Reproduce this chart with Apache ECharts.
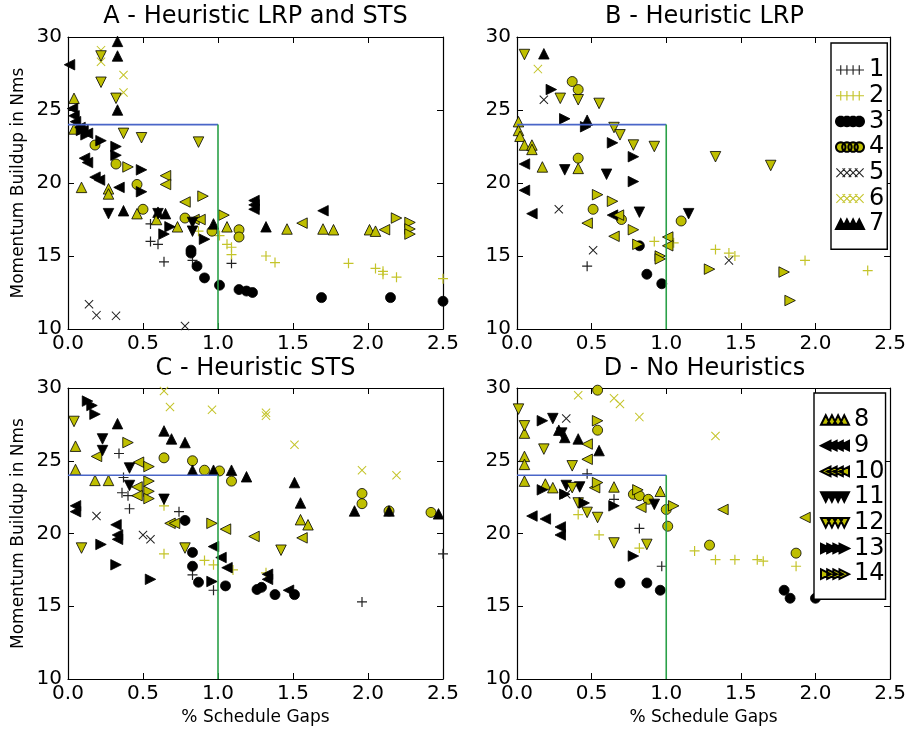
<!DOCTYPE html>
<html>
<head>
<meta charset="utf-8">
<script src="https://cdn.jsdelivr.net/npm/echarts@6.0.0/dist/echarts.min.js"></script>
<style>html,body{margin:0;padding:0;background:#fff}#chart{width:909px;height:730px}</style>
</head>
<body>
<div id="chart"></div>
<script>
// ---------- labels ----------
const panelTitles = ['A - Heuristic LRP and STS', 'B - Heuristic LRP', 'C - Heuristic STS', 'D - No Heuristics'];
const seriesNames = ['1','2','3','4','5','6','7','8','9','10','11','12','13','14'];
const yAxisTitle = 'Momentum Buildup in Nms';
const xAxisTitle = '% Schedule Gaps';
const xRange = [0, 2.5];
const xStep = 0.5;
const yRange = [10, 30];
const yStep = 5;
const limitX = 1.0;
const limitY = 24;

// ---------- panel A : Heuristic LRP and STS ----------
const A1 = [[0.55,17.2],[0.55,16.0],[0.6,15.8],[0.64,14.6],[0.83,14.7],[1.09,14.5]];
const A2 = [[0.87,16.7],[1.01,16.4],[1.06,15.8],[1.09,15.6],[1.09,15.1],[1.32,15.0],[1.38,14.55],[1.87,14.5],[2.05,14.15],[2.1,13.95],[2.1,13.75],[2.19,13.55],[2.5,13.45]];
const A3 = [[0.82,15.4],[0.82,15.2],[0.86,14.3],[0.91,13.5],[1.01,13.0],[1.14,12.7],[1.19,12.6],[1.23,12.5],[1.69,12.15],[2.15,12.15],[2.5,11.9]];
const A4 = [[0.18,22.6],[0.32,21.3],[0.46,19.9],[0.5,18.2],[0.78,17.6],[0.96,16.7],[1.14,16.8],[1.14,16.3]];
const A5 = [[0.14,11.7],[0.19,10.95],[0.32,10.9],[0.78,10.2]];
const A6 = [[0.22,29.1],[0.22,28.3],[0.37,27.4],[0.37,26.2]];
const A7 = [[0.33,29.7],[0.33,28.7],[0.33,25.0],[0.37,18.1],[0.6,18.0],[0.65,17.9],[0.97,17.2],[1.32,17.0]];
const A8 = [[0.04,25.8],[0.04,23.7],[0.09,19.7],[0.27,19.6],[0.27,19.25],[0.46,17.9],[0.59,17.5],[0.73,17.0],[1.06,17.0],[1.46,16.85],[1.7,16.85],[1.77,16.8],[2.01,16.8],[2.05,16.7]];
const A9 = [[0.01,28.1],[0.03,25.1],[0.04,24.6],[0.05,24.2],[0.08,23.8],[0.1,23.6],[0.13,23.4],[0.11,21.7],[0.13,21.4],[0.18,20.4],[0.21,20.2],[0.34,19.7],[1.24,18.8],[1.24,18.5],[1.24,18.2],[1.7,18.1]];
const A10 = [[0.65,20.5],[0.65,19.9],[0.78,18.7],[0.84,17.5],[0.88,17.5],[1.56,17.25],[2.11,16.8]];
const A11 = [[0.27,17.9],[0.6,17.9],[0.83,17.3],[0.83,16.7]];
const A12 = [[0.22,28.7],[0.22,26.9],[0.32,25.8],[0.37,23.4],[0.49,23.1],[0.87,22.8]];
const A13 = [[0.09,23.6],[0.12,23.3],[0.22,22.9],[0.32,22.5],[0.32,21.9],[0.49,20.9],[0.49,19.4],[0.64,16.5],[0.68,17.0],[0.91,16.15]];
const A14 = [[0.4,21.1],[0.9,19.1],[1.04,17.8],[2.19,17.6],[2.28,17.3],[2.28,16.85],[2.28,16.5]];

// ---------- panel B : Heuristic LRP ----------
const B1 = [[0.47,14.3]];
const B2 = [[0.92,16.0],[1.05,15.9],[1.33,15.45],[1.42,15.2],[1.46,15.0],[1.93,14.7],[2.35,14.0]];
const B3 = [[0.82,15.7],[0.87,13.75],[0.97,13.1]];
const B4 = [[0.37,26.95],[0.41,26.4],[0.41,21.7],[0.51,18.2],[0.7,17.5],[1.1,17.4]];
const B5 = [[0.18,25.7],[0.28,18.2],[0.51,15.4],[1.42,14.7]];
const B6 = [[0.14,27.8]];
const B7 = [[0.18,28.85],[0.47,24.3]];
const B8 = [[0.01,24.2],[0.01,23.6],[0.02,23.2],[0.05,22.6],[0.1,22.6],[0.1,22.3],[0.17,21.1],[0.41,21.0]];
const B9 = [[0.05,21.3],[0.05,19.5],[0.1,17.9],[0.64,17.8]];
const B10 = [[0.47,17.25],[0.65,16.35],[0.68,17.8],[1.01,16.3],[1.01,15.7]];
const B11 = [[0.32,20.9],[0.6,20.6],[0.82,18.0],[1.15,17.9]];
const B12 = [[0.05,28.8],[0.29,25.8],[0.41,25.7],[0.55,25.45],[0.65,23.8],[0.69,23.3],[0.78,22.6],[0.92,22.5],[1.33,21.8],[1.7,21.2]];
const B13 = [[0.23,26.4],[0.32,24.4],[0.46,23.85],[0.64,22.75],[0.78,21.8],[0.78,20.1]];
const B14 = [[0.54,19.2],[0.64,18.75],[0.78,16.8],[0.81,15.8],[0.96,15.0],[0.96,14.8],[1.29,14.1],[1.79,13.9],[1.83,11.95]];

// ---------- panel C : Heuristic STS ----------
const C1 = [[0.34,25.5],[0.37,23.85],[0.36,22.8],[0.4,22.6],[0.41,21.7],[0.74,21.5],[0.83,17.15],[0.97,16.1],[1.96,15.3],[2.5,18.6]];
const C2 = [[0.64,21.9],[0.64,18.6],[0.91,18.15],[0.97,17.85],[1.1,17.5],[1.32,17.3]];
const C3 = [[0.78,20.9],[0.83,18.7],[0.83,17.75],[0.87,16.65],[1.05,16.4],[1.26,16.15],[1.29,16.3],[1.38,15.8],[1.51,15.8]];
const C4 = [[0.64,25.2],[0.83,25.0],[0.91,24.35],[1.01,24.3],[1.09,23.6],[1.96,22.75],[1.96,22.05],[2.14,21.55],[2.42,21.45]];
const C5 = [[0.19,21.2],[0.5,19.9],[0.55,19.6]];
const C6 = [[0.64,29.8],[0.68,28.7],[0.96,28.5],[1.32,28.3],[1.32,28.1],[1.51,26.1],[1.96,24.35],[2.19,24.0]];
const C7 = [[0.33,27.55],[0.64,27.05],[0.69,26.5],[0.78,26.25],[0.83,24.35],[0.97,24.35],[1.09,24.35],[1.19,23.9],[1.51,23.5],[1.55,22.1],[1.91,21.55],[2.14,21.55],[2.47,21.35]];
const C8 = [[0.05,26.0],[0.05,24.4],[0.18,23.65],[0.27,23.65],[1.55,20.95],[1.6,20.6]];
const C9 = [[0.05,21.9],[0.05,21.5],[0.32,20.6],[0.33,19.9],[0.33,19.6],[0.97,19.1],[1.02,18.35],[1.06,17.65],[1.33,17.2],[1.33,16.85],[1.47,16.1]];
const C10 = [[0.19,25.3],[0.47,24.9],[0.46,23.2],[0.46,22.6],[0.68,20.7],[0.71,20.7],[1.05,20.3],[1.24,19.8],[1.56,19.7]];
const C11 = [[0.23,26.5],[0.23,25.7],[0.41,24.5],[0.41,23.3],[0.64,22.35]];
const C12 = [[0.04,27.7],[0.09,19.0],[0.78,19.0],[1.42,18.85]];
const C13 = [[0.13,29.1],[0.16,28.8],[0.18,28.2],[0.22,19.25],[0.32,17.85],[0.55,16.85],[0.96,16.7]];
const C14 = [[0.4,26.25],[0.54,24.6],[0.54,23.6],[0.54,22.9],[0.54,22.4],[0.96,20.7]];

// ---------- panel D : No Heuristics ----------
const D1 = [[0.47,24.1],[0.65,22.35],[0.82,20.35],[0.97,17.75]];
const D2 = [[0.41,21.3],[0.55,19.9],[0.82,19.0],[1.19,18.8],[1.33,18.2],[1.46,18.2],[1.61,18.2],[1.65,18.1],[1.87,17.75]];
const D3 = [[0.69,16.6],[0.87,16.6],[0.96,16.1],[1.79,16.1],[1.83,15.55],[2.0,15.55]];
const D4 = [[0.54,29.85],[0.54,27.1],[0.78,22.7],[0.82,22.6],[0.88,22.35],[1.0,21.65],[1.01,20.5],[1.29,19.2],[1.87,18.65]];
const D5 = [[0.33,27.9],[0.33,22.7]];
const D6 = [[0.41,29.5],[0.65,29.3],[0.69,28.9],[0.82,28.0],[1.33,26.7]];
const D7 = [[0.28,27.1],[0.32,26.6],[0.41,26.5],[0.55,25.7]];
const D8 = [[0.05,26.9],[0.05,25.3],[0.05,24.75],[0.05,23.6],[0.19,23.4],[0.24,23.15],[0.65,23.2],[0.96,22.9]];
const D9 = [[0.1,21.2],[0.19,21.0],[0.29,20.45],[0.29,19.9]];
const D10 = [[0.47,26.15],[0.47,25.1],[0.52,23.15],[0.83,21.8],[1.38,21.65],[1.93,21.1]];
const D11 = [[0.24,27.9],[0.3,26.9],[0.33,23.3],[0.42,23.2],[0.92,22.0]];
const D12 = [[0.01,28.55],[0.05,27.4],[0.18,25.8],[0.37,24.65],[0.37,23.15],[0.41,22.1],[0.47,21.45],[0.54,21.1],[0.65,19.35],[0.87,19.25]];
const D13 = [[0.17,27.75],[0.17,23.0],[0.32,22.7],[0.45,22.1],[0.65,21.9],[0.78,18.45]];
const D14 = [[0.54,27.75],[0.54,23.5],[0.81,23.0],[1.05,21.9]];

const panelData = [
  [A1,A2,A3,A4,A5,A6,A7,A8,A9,A10,A11,A12,A13,A14],
  [B1,B2,B3,B4,B5,B6,B7,B8,B9,B10,B11,B12,B13,B14],
  [C1,C2,C3,C4,C5,C6,C7,C8,C9,C10,C11,C12,C13,C14],
  [D1,D2,D3,D4,D5,D6,D7,D8,D9,D10,D11,D12,D13,D14]
];

// ---------- styling ----------
const FONT = 'DejaVu Sans';
const YEL = '#bfbf00';
const BLK = '#000000';
const circlePts = [];
for (let k = 0; k < 24; k++) { const a = k / 24 * Math.PI * 2; circlePts.push([5 + 5 * Math.cos(a), 5 + 5 * Math.sin(a)]); }
const shapes = {
  plus: [[4.4,0],[5.6,0],[5.6,4.4],[10,4.4],[10,5.6],[5.6,5.6],[5.6,10],[4.4,10],[4.4,5.6],[0,5.6],[0,4.4],[4.4,4.4]],
  x: [[0,0.8],[0.8,0],[5,4.2],[9.2,0],[10,0.8],[5.8,5],[10,9.2],[9.2,10],[5,5.8],[0.8,10],[0,9.2],[4.2,5]],
  circle: circlePts,
  up: [[5,0],[10,10],[0,10]],
  down: [[0,0],[10,0],[5,10]],
  left: [[0,5],[10,0],[10,10]],
  right: [[10,5],[0,0],[0,10]]
};
const markerDefs = [
  ['plus', BLK], ['plus', YEL], ['circle', BLK], ['circle', YEL], ['x', BLK], ['x', YEL],
  ['up', BLK], ['up', YEL], ['left', BLK], ['left', YEL], ['down', BLK], ['down', YEL],
  ['right', BLK], ['right', YEL]
];
function polyPath(pts, dx) {
  return 'M' + pts.map(p => (p[0] + dx).toFixed(2) + ',' + p[1].toFixed(2)).join('L') + 'Z';
}
function symbolOf(i) {
  const sh = markerDefs[i][0];
  if (sh === 'circle') return 'circle';
  return 'path://' + polyPath(shapes[sh], 0);
}
function legendIconOf(i) {
  const sh = markerDefs[i][0];
  return 'path://' + [0, 6.5, 13, 19.5].map(dx => polyPath(shapes[sh], dx)).join(' ');
}
function sizeOf(i) {
  const sh = markerDefs[i][0];
  if (sh === 'circle') return 10;
  if (sh === 'x') return 9;
  if (sh === 'plus') return 10;
  return 10.5;
}
function itemStyleOf(i) {
  const sh = markerDefs[i][0];
  const c = markerDefs[i][1];
  if (sh === 'plus' || sh === 'x') return { color: c === YEL ? '#c4c42a' : '#222', borderWidth: 0, opacity: 1 };
  return { color: c, borderColor: '#000', borderWidth: 0.8, opacity: 1 };
}

const grids = [
  { left: 68, top: 37, width: 375, height: 292 },
  { left: 517, top: 37, width: 375, height: 292 },
  { left: 68, top: 388, width: 375, height: 291 },
  { left: 517, top: 388, width: 375, height: 291 }
];

const xAxes = [], yAxes = [], series = [], titles = [];
const axisLineStyle = { color: '#000', width: 1.2 };
for (let p = 0; p < 4; p++) {
  const bottomRow = p >= 2;
  const leftCol = p % 2 === 0;
  xAxes.push({
    gridIndex: p, type: 'value', position: 'bottom', min: xRange[0], max: xRange[1], interval: xStep,
    axisLine: { show: true, onZero: false, lineStyle: axisLineStyle },
    axisTick: { show: true, inside: true, length: 6, lineStyle: { color: '#000', width: 1 } },
    axisLabel: { show: true, margin: 5, fontSize: 20, fontFamily: FONT, color: '#000', formatter: v => v.toFixed(1) },
    splitLine: { show: false },
    name: bottomRow ? xAxisTitle : '', nameLocation: 'middle', nameGap: 30,
    nameTextStyle: { fontSize: 17, fontFamily: FONT, color: '#000' }
  });
  xAxes.push({
    gridIndex: p, type: 'value', position: 'top', min: xRange[0], max: xRange[1], interval: xStep,
    axisLine: { show: true, onZero: false, lineStyle: axisLineStyle },
    axisTick: { show: true, inside: true, length: 6, lineStyle: { color: '#000', width: 1 } },
    axisLabel: { show: false }, splitLine: { show: false }
  });
  yAxes.push({
    gridIndex: p, type: 'value', position: 'left', min: yRange[0], max: yRange[1], interval: yStep,
    axisLine: { show: true, onZero: false, lineStyle: axisLineStyle },
    axisTick: { show: true, inside: true, length: 6, lineStyle: { color: '#000', width: 1 } },
    axisLabel: { show: true, margin: 6, fontSize: 20, fontFamily: FONT, color: '#000' },
    splitLine: { show: false },
    name: leftCol ? yAxisTitle : '', nameLocation: 'middle', nameGap: 41, nameRotate: 90,
    nameTextStyle: { fontSize: 17, fontFamily: FONT, color: '#000' }
  });
  yAxes.push({
    gridIndex: p, type: 'value', position: 'right', min: yRange[0], max: yRange[1], interval: yStep,
    axisLine: { show: true, onZero: false, lineStyle: axisLineStyle },
    axisTick: { show: true, inside: true, length: 6, lineStyle: { color: '#000', width: 1 } },
    axisLabel: { show: false }, splitLine: { show: false }
  });
  titles.push({
    text: panelTitles[p], left: grids[p].left + grids[p].width / 2, textAlign: 'center',
    top: p < 2 ? 5 : 357, padding: 0,
    textStyle: { fontSize: 24, fontWeight: 'normal', fontFamily: FONT, color: '#000' }
  });
  for (let s = 0; s < 14; s++) {
    series.push({
      type: 'scatter', name: seriesNames[s], xAxisIndex: p * 2, yAxisIndex: p * 2,
      data: panelData[p][s], symbol: symbolOf(s), symbolSize: sizeOf(s),
      itemStyle: itemStyleOf(s), z: 2, silent: true,
      emphasis: { disabled: true }
    });
  }
  series.push({
    type: 'line', xAxisIndex: p * 2, yAxisIndex: p * 2, silent: true, z: 5,
    data: [[xRange[0], limitY], [limitX, limitY]], symbol: 'none',
    lineStyle: { color: '#4a66c8', width: 1.6 }
  });
  series.push({
    type: 'line', xAxisIndex: p * 2, yAxisIndex: p * 2, silent: true, z: 5,
    data: [[limitX, yRange[0]], [limitX, limitY]], symbol: 'none',
    lineStyle: { color: '#2aa048', width: 1.6 }
  });
}

function legendData(from, to) {
  const out = [];
  for (let s = from; s < to; s++) out.push({ name: seriesNames[s], icon: legendIconOf(s) });
  return out;
}
const legendCommon = {
  orient: 'vertical', selectedMode: false, itemWidth: 28, itemHeight: 9.5, itemGap: 1.7,
  borderColor: '#000', borderWidth: 1.4, backgroundColor: '#fff',
  textStyle: { fontSize: 24, fontFamily: FONT, color: '#000', lineHeight: 22 }
};

const chart = echarts.init(document.getElementById('chart'), null, { renderer: 'canvas' });
chart.setOption({
  animation: false,
  backgroundColor: '#fff',
  title: titles,
  grid: grids,
  xAxis: xAxes,
  yAxis: yAxes,
  legend: [
    Object.assign({}, legendCommon, { data: legendData(0, 7), left: 831, top: 43, padding: [15, 3, 13, 4] }),
    Object.assign({}, legendCommon, { data: legendData(7, 14), left: 814, top: 393, padding: [15, 1, 13, 6] })
  ],
  series: series
});
</script>
</body>
</html>
